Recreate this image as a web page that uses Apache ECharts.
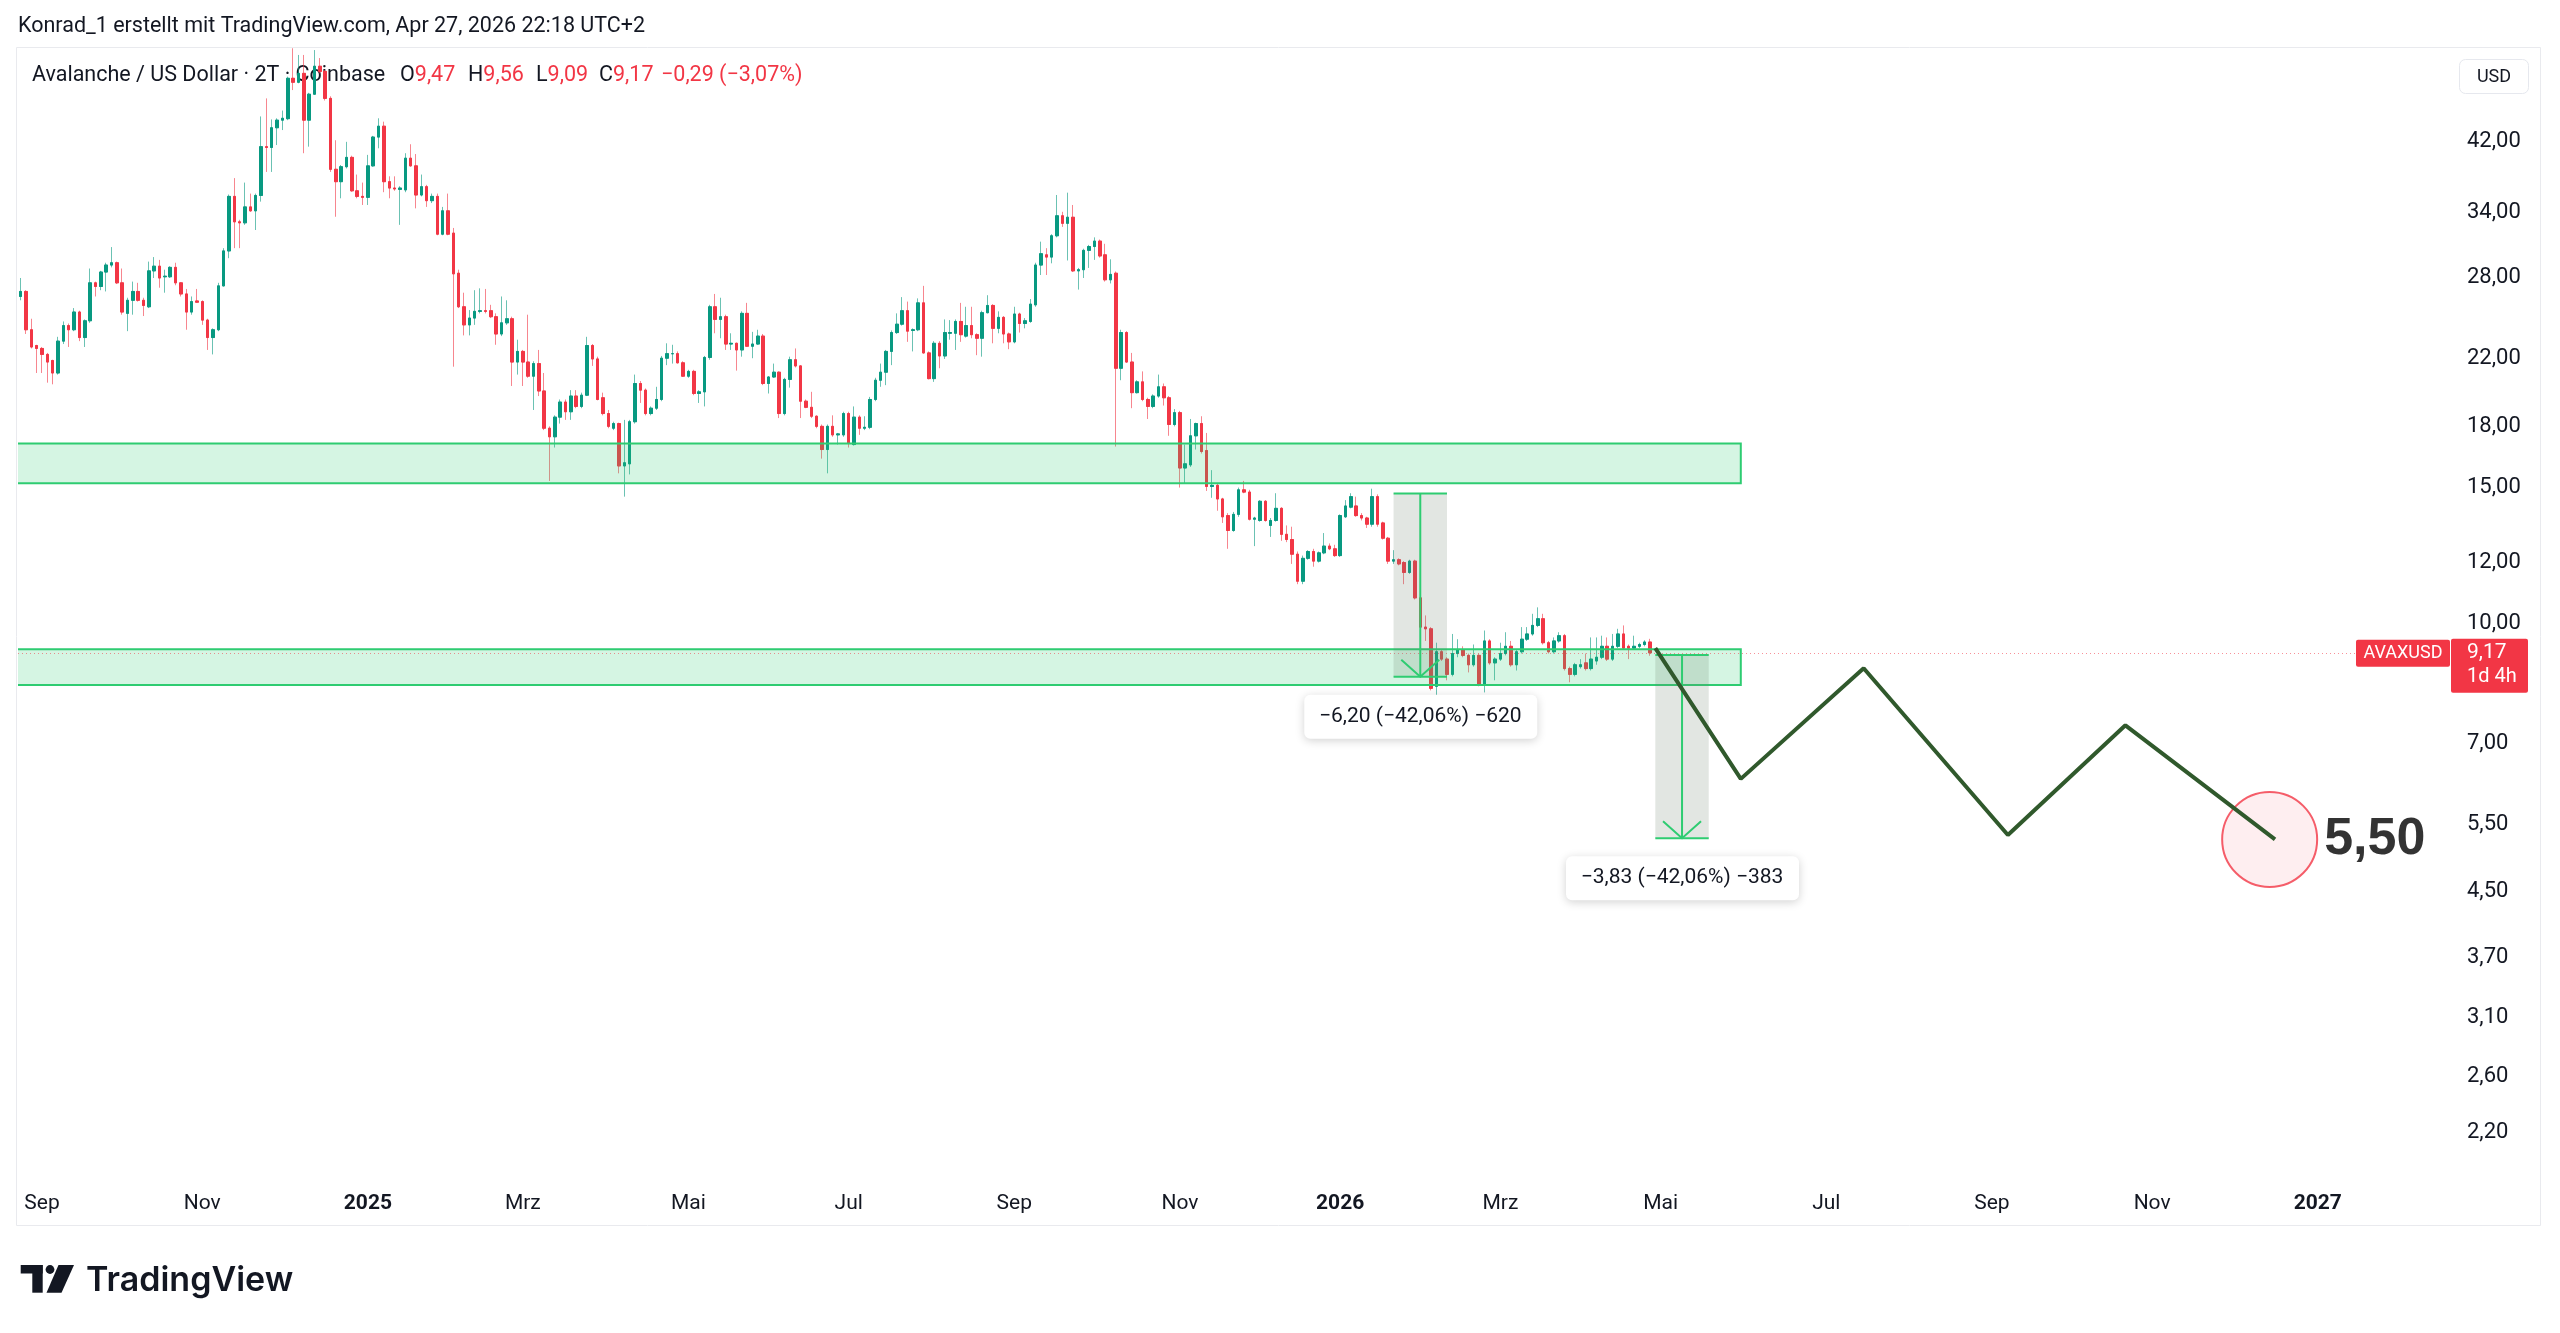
<!DOCTYPE html>
<html>
<head>
<meta charset="utf-8">
<title>AVAXUSD 2T</title>
<script src="https://cdn.jsdelivr.net/npm/echarts@6/dist/echarts.min.js"></script>
<style>
  html, body { margin: 0; padding: 0; background: #fff; }
  #chart { width: 2560px; height: 1333px; }
</style>
</head>
<body>
<div id="chart"></div>
<script>
// 2-day candles, first one starts 2024-08-25, last one 2026-04-27
const candleStart = Date.UTC(2024, 7, 25);
const slotCount = 455; // candle slots incl. empty future space

// [open, close, low, high]
const ohlc = [
  [26.5, 26.9, 26.2, 28.0], [26.9, 24.0, 23.7, 27.0], [24.0, 22.8, 22.7, 24.8], [22.9, 22.7, 21.1, 22.95],
  [22.7, 22.3, 21.1, 22.8], [22.3, 21.8, 20.5, 22.4], [21.9, 21.1, 20.4, 21.95], [21.1, 23.2, 21.0, 23.5],
  [23.2, 24.3, 23.0, 24.6], [24.3, 24.0, 22.8, 24.45], [24.0, 25.3, 23.9, 25.6], [25.3, 23.45, 23.2, 25.4],
  [23.45, 24.65, 22.8, 24.75], [24.65, 27.6, 24.5, 28.8], [27.6, 27.3, 26.5, 27.7], [27.3, 28.5, 27.0, 28.6],
  [28.5, 29.1, 26.9, 29.3], [29.1, 29.3, 28.9, 30.7], [29.3, 27.6, 27.5, 29.4], [27.6, 25.3, 25.1, 28.8],
  [25.2, 26.2, 23.9, 26.4], [26.2, 26.9, 25.1, 27.7], [26.9, 26.2, 26.1, 27.6], [26.2, 25.8, 25.0, 26.4],
  [25.7, 28.6, 25.6, 29.4], [28.6, 29.0, 28.0, 29.8], [29.0, 28.0, 27.2, 29.55], [28.1, 28.15, 26.8, 28.7],
  [28.1, 28.9, 28.0, 29.0], [28.9, 27.6, 27.4, 29.3], [27.6, 26.7, 26.5, 27.65], [26.7, 25.3, 24.0, 27.1],
  [25.3, 26.1, 25.1, 26.5], [26.15, 26.05, 26.0, 27.1], [26.1, 24.7, 24.35, 26.2], [24.7, 23.45, 22.6, 24.8],
  [23.45, 24.0, 22.3, 24.1], [24.0, 27.35, 23.9, 27.6], [27.35, 30.35, 27.3, 30.6], [30.35, 35.7, 29.7, 35.9],
  [35.7, 33.1, 30.6, 37.7], [33.1, 33.0, 30.6, 33.3], [33.0, 34.6, 32.8, 37.2], [34.6, 34.2, 34.1, 36.0],
  [34.2, 35.8, 32.3, 36.0], [35.8, 41.4, 35.15, 45.3], [41.4, 41.3, 38.4, 47.8], [41.3, 43.8, 38.4, 44.9],
  [43.8, 44.8, 41.6, 45.05], [44.8, 45.05, 43.5, 46.1], [45.0, 50.75, 44.8, 51.0], [50.75, 50.15, 49.0, 55.5],
  [50.15, 51.5, 50.0, 54.4], [51.5, 44.8, 40.6, 54.4], [44.8, 48.4, 41.4, 48.6], [48.4, 52.6, 48.3, 55.2],
  [52.6, 51.8, 51.5, 53.9], [51.8, 47.8, 47.5, 52.0], [47.8, 38.7, 38.4, 48.1], [38.7, 37.3, 33.6, 42.2],
  [37.3, 39.0, 35.5, 39.2], [39.0, 40.1, 38.8, 42.0], [40.1, 36.3, 36.2, 40.3], [36.3, 35.7, 35.5, 38.1],
  [35.7, 35.6, 34.8, 37.2], [35.6, 39.1, 34.8, 40.4], [39.1, 42.6, 39.0, 42.75], [42.6, 44.0, 41.2, 45.05],
  [44.0, 37.3, 36.15, 44.6], [37.3, 36.6, 35.5, 37.9], [36.6, 36.5, 36.3, 37.9], [36.45, 36.6, 32.8, 36.8],
  [36.4, 40.0, 36.15, 40.6], [40.0, 39.1, 39.0, 41.7], [39.1, 35.85, 34.45, 40.5], [35.85, 36.75, 35.7, 38.1],
  [36.75, 35.25, 34.6, 36.95], [35.25, 35.7, 35.0, 36.0], [35.7, 31.9, 31.8, 36.0], [31.9, 34.2, 31.8, 34.6],
  [34.2, 31.9, 31.8, 36.0], [32.0, 28.35, 21.5, 32.5], [28.4, 25.7, 25.6, 28.7], [25.7, 24.35, 23.6, 26.8],
  [24.35, 24.85, 23.6, 25.45], [24.85, 25.35, 24.35, 27.0], [25.35, 25.4, 25.2, 27.15], [25.4, 25.35, 25.2, 27.1],
  [25.4, 24.95, 24.85, 25.85], [24.95, 23.7, 22.95, 25.2], [23.7, 24.5, 23.55, 26.5], [24.5, 24.8, 24.35, 26.2],
  [24.8, 21.8, 20.3, 24.95], [21.8, 22.5, 21.0, 23.3], [22.5, 21.8, 20.3, 22.6], [21.8, 20.9, 20.8, 25.1],
  [20.9, 21.7, 18.9, 21.85], [21.7, 20.0, 19.7, 22.6], [20.0, 17.9, 17.8, 21.1], [17.9, 17.45, 15.3, 18.0],
  [17.45, 18.5, 16.9, 18.6], [18.5, 19.35, 18.15, 19.5], [19.35, 18.8, 18.35, 19.5], [18.8, 19.7, 18.35, 20.05],
  [19.7, 19.1, 19.0, 20.05], [19.1, 19.75, 19.0, 19.9], [19.75, 22.9, 19.7, 23.5], [22.9, 22.0, 21.55, 23.0],
  [22.0, 19.5, 19.45, 22.15], [19.6, 18.7, 18.6, 19.9], [18.7, 18.0, 17.9, 18.9], [17.9, 18.15, 17.8, 18.25],
  [18.15, 16.0, 15.65, 18.2], [16.0, 16.15, 14.6, 18.35], [16.1, 18.25, 15.6, 18.35], [18.25, 20.45, 18.15, 21.0],
  [20.45, 20.05, 19.3, 20.6], [20.05, 18.7, 18.6, 20.15], [18.7, 19.0, 18.6, 19.1], [19.0, 19.5, 18.9, 20.25],
  [19.5, 22.05, 19.4, 22.2], [22.05, 22.35, 21.6, 23.05], [22.35, 22.35, 21.7, 22.95], [22.35, 21.75, 21.7, 22.5],
  [21.75, 20.9, 20.85, 21.85], [20.9, 21.2, 20.8, 21.3], [21.2, 19.85, 19.75, 21.3], [19.85, 19.95, 19.3, 20.05],
  [19.95, 22.1, 19.1, 22.2], [22.1, 25.7, 21.95, 25.85], [25.7, 24.75, 23.75, 26.7], [24.75, 24.95, 23.4, 26.4],
  [24.95, 23.0, 22.6, 25.1], [23.0, 23.05, 22.6, 23.75], [23.05, 22.6, 21.25, 23.1], [22.6, 25.2, 22.15, 25.35],
  [25.2, 22.85, 22.8, 26.0], [22.85, 23.0, 22.05, 23.85], [23.0, 23.55, 22.95, 24.0], [23.55, 20.45, 20.35, 23.7],
  [20.45, 20.85, 19.85, 20.9], [20.85, 21.15, 20.8, 21.7], [21.15, 18.7, 18.45, 21.2], [18.7, 20.7, 18.6, 20.8],
  [20.7, 21.95, 20.2, 22.15], [21.95, 21.55, 21.45, 22.7], [21.55, 19.4, 18.45, 21.6], [19.4, 19.05, 19.0, 19.5],
  [19.05, 18.55, 18.45, 19.95], [18.55, 18.0, 17.9, 18.6], [18.0, 16.8, 16.35, 18.1], [16.8, 18.0, 15.65, 18.1],
  [18.0, 17.55, 17.45, 18.6], [17.55, 17.6, 17.05, 17.65], [17.55, 18.7, 17.45, 18.8], [18.7, 17.1, 16.9, 18.8],
  [17.05, 18.5, 17.0, 19.1], [18.5, 17.9, 17.55, 18.6], [17.9, 17.95, 17.8, 18.55], [17.95, 19.5, 17.85, 19.65],
  [19.5, 20.65, 19.4, 20.8], [20.65, 21.15, 20.25, 21.7], [21.15, 22.5, 20.35, 22.6], [22.5, 23.8, 21.6, 23.95],
  [23.8, 24.4, 23.7, 25.2], [24.4, 25.4, 24.3, 26.45], [25.4, 23.9, 23.15, 26.1], [23.95, 24.0, 22.5, 24.1],
  [24.0, 26.0, 23.9, 26.35], [26.0, 22.4, 22.35, 27.35], [22.4, 20.75, 20.7, 22.5], [20.75, 23.05, 20.55, 23.2],
  [23.05, 22.2, 21.4, 23.2], [22.2, 23.8, 22.0, 24.75], [23.75, 23.8, 23.3, 24.7], [23.75, 24.6, 22.6, 24.75],
  [24.6, 23.65, 23.15, 26.0], [23.55, 24.3, 23.45, 25.7], [24.3, 23.65, 23.4, 25.7], [23.65, 23.4, 22.25, 23.75],
  [23.4, 25.25, 22.15, 25.4], [25.25, 25.8, 25.2, 26.6], [25.8, 24.1, 23.05, 25.9], [24.1, 24.9, 23.75, 25.35],
  [24.9, 23.7, 23.05, 25.0], [23.7, 23.15, 22.65, 23.8], [23.15, 25.15, 23.05, 25.7], [25.15, 24.45, 23.8, 25.25],
  [24.45, 24.65, 24.1, 24.85], [24.6, 25.9, 24.5, 26.3], [25.85, 29.1, 25.7, 29.3], [29.1, 30.1, 28.25, 31.2],
  [30.0, 29.8, 28.25, 30.6], [29.8, 31.75, 29.25, 31.9], [31.75, 33.7, 31.6, 35.85], [33.7, 32.95, 32.6, 34.1],
  [32.95, 33.55, 29.5, 36.1], [33.55, 28.6, 28.5, 34.8], [28.6, 28.7, 27.05, 28.85], [28.7, 30.4, 28.0, 30.55],
  [30.4, 30.75, 28.85, 30.9], [30.75, 31.25, 29.55, 31.6], [31.25, 29.9, 29.75, 31.4], [30.0, 27.85, 27.7, 31.0],
  [27.85, 28.3, 27.55, 29.6], [28.4, 21.4, 16.95, 28.55], [21.4, 23.8, 20.65, 24.0], [23.8, 21.8, 21.75, 23.9],
  [21.8, 19.9, 19.0, 22.4], [19.9, 20.55, 19.85, 20.65], [20.55, 19.5, 19.4, 21.2], [19.5, 19.1, 18.4, 19.6],
  [19.1, 19.7, 19.0, 19.8], [19.7, 20.25, 19.6, 21.0], [20.25, 19.6, 19.15, 20.45], [19.6, 18.1, 17.5, 19.7],
  [18.1, 18.75, 18.0, 18.95], [18.75, 15.9, 15.0, 18.85], [15.9, 16.1, 15.2, 17.05], [16.05, 17.5, 15.95, 18.4],
  [17.5, 18.15, 16.8, 18.2], [18.15, 16.7, 16.6, 18.55], [16.75, 15.05, 14.85, 17.65], [15.05, 15.1, 14.55, 15.8],
  [15.1, 14.5, 14.0, 15.2], [14.5, 13.75, 13.5, 14.55], [13.8, 13.2, 12.5, 13.9], [13.2, 13.85, 13.15, 13.95],
  [13.85, 14.9, 13.75, 15.0], [14.9, 14.8, 14.75, 15.3], [14.8, 13.65, 13.6, 14.9], [13.65, 13.7, 12.6, 13.75],
  [13.6, 14.4, 13.55, 14.45], [14.4, 13.6, 13.55, 14.45], [13.4, 13.6, 12.95, 13.7], [13.6, 14.1, 13.55, 14.75],
  [14.1, 13.05, 12.8, 14.15], [13.05, 12.85, 12.75, 13.4], [12.85, 12.3, 11.95, 13.35], [12.3, 11.35, 11.25, 12.4],
  [11.35, 12.15, 11.25, 12.25], [12.15, 12.4, 12.1, 12.45], [12.4, 12.05, 11.85, 12.5], [12.05, 12.35, 12.0, 12.4],
  [12.35, 12.6, 12.3, 13.1], [12.6, 12.5, 12.45, 12.7], [12.5, 12.25, 12.2, 12.65], [12.25, 13.8, 12.2, 13.85],
  [13.75, 14.2, 13.7, 14.45], [14.15, 14.6, 14.1, 14.75], [14.2, 13.8, 13.75, 14.6], [13.8, 13.7, 13.6, 13.9],
  [13.7, 13.45, 13.3, 13.75], [13.45, 14.6, 13.35, 14.95], [14.6, 13.45, 13.35, 14.7], [13.5, 12.9, 12.85, 13.55],
  [12.9, 12.05, 11.95, 12.95], [12.05, 12.1, 11.95, 12.45], [12.1, 11.95, 11.9, 12.15], [12.0, 11.65, 11.25, 12.05],
  [11.65, 12.05, 11.6, 12.1], [12.05, 10.8, 10.75, 12.1], [10.8, 9.9, 9.8, 10.85], [9.9, 9.85, 9.5, 10.25],
  [9.85, 8.25, 8.2, 9.9], [8.3, 9.2, 7.75, 9.45], [9.2, 9.0, 8.95, 9.25], [9.0, 8.6, 8.45, 9.05],
  [8.6, 9.15, 8.55, 9.7], [9.15, 9.25, 9.05, 9.55], [9.25, 9.1, 9.05, 9.35], [9.1, 8.85, 8.65, 9.15],
  [8.85, 9.1, 8.8, 9.4], [9.1, 8.35, 8.3, 9.15], [8.35, 9.5, 8.15, 9.8], [9.5, 8.9, 8.85, 9.55],
  [8.9, 9.0, 8.45, 9.05], [9.0, 9.15, 8.95, 9.45], [9.15, 9.35, 9.1, 9.75], [9.35, 8.85, 8.8, 9.5],
  [8.85, 9.2, 8.7, 9.25], [9.2, 9.55, 9.15, 9.9], [9.55, 9.7, 9.5, 9.9], [9.7, 9.95, 9.65, 10.3],
  [9.95, 10.15, 9.9, 10.5], [10.15, 9.45, 9.4, 10.3], [9.45, 9.2, 9.15, 9.5], [9.2, 9.5, 9.15, 9.6],
  [9.5, 9.65, 9.45, 9.75], [9.65, 8.75, 8.7, 9.7], [8.75, 8.6, 8.4, 8.8], [8.6, 8.85, 8.55, 8.9],
  [8.8, 8.85, 8.75, 9.0], [8.9, 8.75, 8.7, 9.15], [8.75, 9.0, 8.7, 9.6], [8.95, 9.05, 8.85, 9.6],
  [9.05, 9.35, 9.0, 9.65], [9.35, 9.0, 8.95, 9.6], [9.0, 9.35, 8.95, 9.7], [9.35, 9.7, 9.3, 9.85],
  [9.7, 9.3, 9.25, 9.95], [9.35, 9.3, 9.0, 9.4], [9.3, 9.35, 9.25, 9.65], [9.35, 9.4, 9.3, 9.45],
  [9.4, 9.47, 9.35, 9.52], [9.47, 9.17, 9.09, 9.56]
];

const lastPrice = 9.17;
const yTicks = [42, 34, 28, 22, 18, 15, 12, 10, 7, 5.5, 4.5, 3.7, 3.1, 2.6, 2.2];
const monthNames = ['Jan', 'Feb', 'Mrz', 'Apr', 'Mai', 'Jun', 'Jul', 'Aug', 'Sep', 'Okt', 'Nov', 'Dez'];

// support zones: [right end slot, low, high]
const zones = [[322, 15.2, 17.1], [322, 8.33, 9.27]];
// price range tools: [from slot, to slot, top price, bottom price]
const measures = [[257, 267, 14.74, 8.54], [306, 316, 9.11, 5.28]];
const measureLabels = ['\u22126,20 (\u221242,06%) \u2212620', '\u22123,83 (\u221242,06%) \u2212383'];
// projected path [slot, price]
const projection = [[306, 9.30], [322, 6.30], [345, 8.76], [372, 5.33], [394, 7.39], [422, 5.26]];
const target = [421, 5.26];
const targetLabel = '5,50';

const FONT = 'Roboto, "Liberation Sans", sans-serif';
const UP = '#089981', DOWN = '#f23645', ZONE = '#2ecc71', TEXT = '#131722';

const categories = [];
for (let i = 0; i < slotCount; i++) {
  categories.push(new Date(candleStart + i * 2 * 86400000).toISOString().slice(0, 10));
}

function timeLabel(i) {
  if (i === 0) return null;
  const m = +categories[i].slice(5, 7), pm = +categories[i - 1].slice(5, 7);
  if (m === pm || m % 2 === 0) return null;
  return m === 1 ? '{y|' + categories[i].slice(0, 4) + '}' : monthNames[m - 1];
}

const bodies = ohlc.map(([o, c]) => [o, c, Math.min(o, c), Math.max(o, c)]);
const fmt = v => v.toFixed(2).replace('.', ',');

function renderZone(params, api) {
  const br = api.coord([api.value(0), api.value(1)]);
  const tr = api.coord([api.value(0), api.value(2)]);
  const left = params.coordSys.x - 6;
  return {
    type: 'rect',
    shape: { x: left, y: tr[1], width: br[0] - left, height: br[1] - tr[1] },
    style: { fill: 'rgba(46,204,113,0.2)', stroke: ZONE, lineWidth: 2 }
  };
}

function renderMeasure(params, api) {
  const a = api.coord([api.value(0), api.value(2)]);
  const b = api.coord([api.value(1), api.value(3)]);
  const x0 = a[0], x1 = b[0], yT = a[1], yB = b[1], cx = (x0 + x1) / 2;
  const line = { stroke: ZONE, lineWidth: 2 };
  return {
    type: 'group',
    children: [
      { type: 'rect', shape: { x: x0, y: yT, width: x1 - x0, height: yB - yT }, style: { fill: 'rgba(110,130,110,0.2)' } },
      { type: 'line', shape: { x1: x0, y1: yT, x2: x1, y2: yT }, style: line },
      { type: 'line', shape: { x1: x0, y1: yB, x2: x1, y2: yB }, style: line },
      { type: 'line', shape: { x1: cx, y1: yT, x2: cx, y2: yB }, style: line },
      { type: 'polyline', shape: { points: [[cx - 19, yB - 17], [cx, yB], [cx + 19, yB - 17]] }, style: { stroke: ZONE, lineWidth: 2, fill: null } },
      { type: 'rect', shape: { x: cx - 116, y: yB + 18, width: 233, height: 44, r: 6 },
        style: { fill: '#fff', shadowBlur: 10, shadowColor: 'rgba(0,0,0,0.18)', shadowOffsetY: 2 } },
      { type: 'text', x: cx, y: yB + 40,
        style: { text: measureLabels[params.dataIndex], fill: TEXT, font: '21px ' + FONT, align: 'center', verticalAlign: 'middle' } }
    ]
  };
}

const chart = echarts.init(document.getElementById('chart'), null, { renderer: 'canvas' });

chart.setOption({
  animation: false,
  backgroundColor: '#fff',
  grid: { left: 18, top: 48, width: slotCount * 5.342, height: 1140 },
  xAxis: {
    type: 'category',
    data: categories,
    boundaryGap: true,
    axisLine: { show: false },
    axisTick: { show: false },
    splitLine: { show: false },
    axisLabel: {
      interval: idx => timeLabel(idx) !== null,
      formatter: (val, idx) => timeLabel(idx) || '',
      color: TEXT, fontSize: 21, fontFamily: FONT, margin: 5,
      rich: { y: { fontWeight: 'bold', fontSize: 21, color: TEXT, fontFamily: FONT } }
    }
  },
  yAxis: {
    type: 'log',
    logBase: 10,
    min: 1.863,
    max: 55.54,
    position: 'right',
    axisLine: { show: false },
    axisTick: { show: false },
    axisLabel: { show: false },
    splitLine: { show: false }
  },
  series: [
    {
      // wicks (lighter), body outline covered by the body series
      type: 'candlestick',
      data: ohlc,
      barWidth: 3,
      silent: true,
      itemStyle: {
        color: 'rgba(0,0,0,0)', color0: 'rgba(0,0,0,0)',
        borderColor: 'rgba(8,153,129,0.6)', borderColor0: 'rgba(242,54,69,0.6)', borderWidth: 1
      },
      z: 2
    },
    {
      type: 'candlestick',
      data: bodies,
      barWidth: 3,
      silent: true,
      itemStyle: { color: UP, color0: DOWN, borderColor: UP, borderColor0: DOWN, borderWidth: 1 },
      markLine: {
        silent: true,
        symbol: 'none',
        label: { show: false },
        lineStyle: { color: 'rgba(242,54,69,0.55)', type: [1, 3], width: 1 },
        data: [{ yAxis: lastPrice }]
      },
      z: 3
    },
    {
      type: 'custom',
      data: zones,
      encode: { x: 0, y: [1, 2] },
      renderItem: renderZone,
      clip: true,
      silent: true,
      z: 4
    },
    {
      type: 'custom',
      data: measures,
      encode: { x: [0, 1], y: [2, 3] },
      renderItem: renderMeasure,
      silent: true,
      z: 5
    },
    {
      type: 'scatter',
      data: [target],
      symbol: 'circle',
      symbolSize: 95,
      silent: true,
      itemStyle: { color: 'rgba(242,54,69,0.1)', borderColor: DOWN, borderWidth: 2 },
      label: {
        show: true, position: 'right', distance: 6, formatter: targetLabel,
        fontSize: 52, fontWeight: 'bold', color: '#000', fontFamily: '"Liberation Sans", sans-serif'
      },
      z: 5
    },
    {
      type: 'line',
      data: projection,
      symbol: 'none',
      silent: true,
      lineStyle: { color: '#30592c', width: 4 },
      z: 6
    }
  ]
});

const yPix = v => chart.convertToPixel({ yAxisIndex: 0 }, v);
const py = yPix(lastPrice);
const LEG = '21.5px ' + FONT;
const legendRich = { d: { fill: TEXT, font: LEG }, r: { fill: DOWN, font: LEG } };

const graphics = [
  { type: 'rect', shape: { x: 16.5, y: 47.5, width: 2524, height: 1178 }, style: { fill: null, stroke: '#e9eaee', lineWidth: 1 }, z: 0 },
  { type: 'text', x: 18, y: 27, style: { text: 'Konrad_1 erstellt mit TradingView.com, Apr 27, 2026 22:18 UTC+2', fill: TEXT, font: '21.5px ' + FONT, verticalAlign: 'middle' } },
  // legend sits under the candles, as in the original
  { type: 'text', x: 32, y: 76, z: 1, style: {
      text: 'Avalanche / US Dollar \u00b7 2T \u00b7 Coinbase', fill: TEXT, font: LEG, verticalAlign: 'middle' } },
  { type: 'text', x: 400, y: 76, z: 1, style: { text: '{d|O}{r|9,47}', verticalAlign: 'middle', rich: legendRich } },
  { type: 'text', x: 468, y: 76, z: 1, style: { text: '{d|H}{r|9,56}', verticalAlign: 'middle', rich: legendRich } },
  { type: 'text', x: 536, y: 76, z: 1, style: { text: '{d|L}{r|9,09}', verticalAlign: 'middle', rich: legendRich } },
  { type: 'text', x: 599, y: 76, z: 1, style: { text: '{d|C}{r|9,17}', verticalAlign: 'middle', rich: legendRich } },
  { type: 'text', x: 661, y: 76, z: 1, style: { text: '\u22120,29 (\u22123,07%)', fill: DOWN, font: LEG, verticalAlign: 'middle' } },
  // USD button
  { type: 'rect', shape: { x: 2459.5, y: 59.5, width: 69, height: 34, r: 6 }, style: { fill: '#fff', stroke: '#e6e8ee', lineWidth: 1 } },
  { type: 'text', x: 2494, y: 77, style: { text: 'USD', fill: TEXT, font: '18px ' + FONT, align: 'center', verticalAlign: 'middle' } },
  // last price tags
  { type: 'rect', shape: { x: 2356, y: py - 13, width: 94, height: 27, r: 2 }, style: { fill: DOWN }, z: 10 },
  { type: 'text', x: 2403, y: py + 0.5, z: 11, style: { text: 'AVAXUSD', fill: '#fff', font: '18px ' + FONT, align: 'center', verticalAlign: 'middle' } },
  { type: 'rect', shape: { x: 2451, y: py - 14, width: 77, height: 54, r: 2 }, style: { fill: DOWN }, z: 10 },
  { type: 'text', x: 2467, y: py, z: 11, style: { text: fmt(lastPrice), fill: '#fff', font: '21px ' + FONT, verticalAlign: 'middle' } },
  { type: 'text', x: 2467, y: py + 24, z: 11, style: { text: '1d 4h', fill: '#fff', font: '20px ' + FONT, verticalAlign: 'middle' } },
  // TradingView logo
  { type: 'rect', shape: { x: 20.7, y: 1265, width: 22, height: 8.5 }, style: { fill: TEXT } },
  { type: 'rect', shape: { x: 32.3, y: 1265, width: 10.4, height: 27.7 }, style: { fill: TEXT } },
  { type: 'circle', shape: { cx: 50, cy: 1269.5, r: 4.4 }, style: { fill: TEXT } },
  { type: 'polygon', shape: { points: [[58.5, 1265], [74, 1265], [61.5, 1292.7], [46.5, 1292.7]] }, style: { fill: TEXT } },
  { type: 'text', x: 86, y: 1281, style: { text: 'TradingView', fill: TEXT, font: '600 34px Inter, ' + FONT, verticalAlign: 'middle' } }
];

yTicks.forEach(v => {
  graphics.push({ type: 'text', x: 2467, y: yPix(v), style: { text: fmt(v), fill: TEXT, font: '22px ' + FONT, verticalAlign: 'middle' } });
});

chart.setOption({ graphic: graphics });
</script>
</body>
</html>
